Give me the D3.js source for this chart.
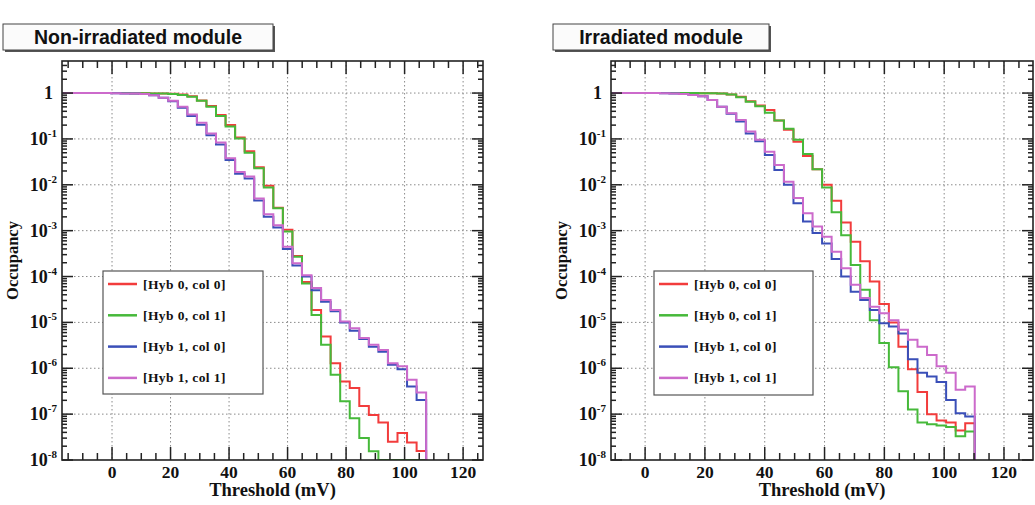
<!DOCTYPE html>
<html lang="en">
<head>
<meta charset="UTF-8">
<title>Occupancy vs threshold</title>
<script src="https://d3js.org/d3.v7.min.js"></script>
<style>
  body { margin: 0; background: #fff; }
  svg { display: block; }
  .serif { font-family: "Liberation Serif", "Times New Roman", serif; font-weight: bold; fill: #111; }
  .sans { font-family: "Liberation Sans", Arial, sans-serif; font-weight: bold; fill: #111; }
</style>
</head>
<body>
<svg id="chart" width="1035" height="505"></svg>
<script>
// ---- data ----
const xTicks = [0, 20, 40, 60, 80, 100, 120];
const yTicks = [1, 1e-1, 1e-2, 1e-3, 1e-4, 1e-5, 1e-6, 1e-7, 1e-8];
const yTickExp = ["", "-1", "-2", "-3", "-4", "-5", "-6", "-7", "-8"];
const seriesLabels = ["[Hyb 0, col 0]", "[Hyb 0, col 1]", "[Hyb 1, col 0]", "[Hyb 1, col 1]"];
const seriesColors = ["#f23c3c", "#46b93a", "#3a4fb8", "#cc6acb"];
const panelTitles = ["Non-irradiated module", "Irradiated module"];

// histogram binning (threshold, mV): first lower edge and bin width
const leftBinning = [-16.7, 3.265];
const rightBinning = [-11.0, 3.19];

// occupancy per bin, non-irradiated module
const leftH0C0 = [1, 1, 1, 1, 1, 1, 1, 0.993, 0.989, 0.982, 0.977, 0.966, 0.933, 0.851, 0.692, 0.525, 0.331, 0.200,
  0.107, 0.0537, 0.0240, 9.55e-3, 3.16e-3, 1.05e-3, 2.82e-4, 7.59e-5, 1.86e-5, 4.90e-6, 1.29e-6, 5.13e-7,
  3.72e-7, 1.51e-7, 9.55e-8, 6.61e-8, 2.51e-8, 3.89e-8, 2.40e-8, 1.58e-8];
const leftH0C1 = [1, 1, 1, 1, 1, 1, 1, 0.993, 0.989, 0.982, 0.977, 0.955, 0.912, 0.832, 0.676, 0.501, 0.316, 0.186,
  0.102, 0.0501, 0.0229, 8.71e-3, 3.09e-3, 9.55e-4, 2.69e-4, 7.08e-5, 1.45e-5, 3.24e-6, 7.24e-7, 1.91e-7,
  8.13e-8, 3.02e-8, 1.55e-8, 0, 0, 0, 0, 0];
const leftH1C0 = [1, 1, 1, 1, 1, 0.993, 0.984, 0.973, 0.955, 0.891, 0.794, 0.661, 0.479, 0.316, 0.204, 0.120, 0.0759,
  0.0347, 0.0174, 0.0138, 4.57e-3, 2.00e-3, 1.17e-3, 3.98e-4, 1.74e-4, 1.00e-4, 5.01e-5, 2.82e-5, 1.74e-5,
  1.00e-5, 6.61e-6, 4.37e-6, 2.95e-6, 2.29e-6, 1.20e-6, 9.55e-7, 3.98e-7, 2.04e-7];
const leftH1C1 = [1, 1, 1, 1, 1, 0.993, 0.984, 0.973, 0.955, 0.891, 0.794, 0.676, 0.501, 0.339, 0.224, 0.132, 0.0832,
  0.0380, 0.0191, 0.0151, 5.01e-3, 2.29e-3, 1.32e-3, 4.47e-4, 1.95e-4, 1.07e-4, 5.62e-5, 3.09e-5, 1.86e-5,
  1.05e-5, 7.41e-6, 4.57e-6, 3.24e-6, 2.51e-6, 1.29e-6, 1.10e-6, 5.62e-7, 2.95e-7];

// occupancy per bin, irradiated module
const rightH0C0 = [1, 1, 1, 1, 1, 1, 1, 1, 1, 0.993, 0.989, 0.977, 0.933, 0.832, 0.661, 0.537, 0.427, 0.251, 0.158,
  0.0871, 0.0427, 0.0219, 0.0100, 4.47e-3, 1.51e-3, 5.75e-4, 2.14e-4, 7.76e-5, 2.51e-5, 1.00e-5, 2.95e-6,
  9.55e-7, 3.02e-7, 1.00e-7, 7.24e-8, 6.61e-8, 4.37e-8, 6.31e-8];
const rightH0C1 = [1, 1, 1, 1, 1, 1, 1, 1, 1, 0.993, 0.989, 0.977, 0.933, 0.813, 0.646, 0.513, 0.372, 0.251, 0.166,
  0.0955, 0.0468, 0.0219, 8.71e-3, 2.51e-3, 7.94e-4, 1.78e-4, 5.13e-5, 1.12e-5, 3.55e-6, 1.05e-6, 3.16e-7,
  1.26e-7, 6.61e-8, 6.03e-8, 5.62e-8, 5.25e-8, 3.31e-8, 4.17e-8];
const rightH1C0 = [1, 1, 1, 1, 1, 0.989, 0.977, 0.955, 0.912, 0.851, 0.708, 0.501, 0.355, 0.240, 0.132, 0.0891,
  0.0447, 0.0209, 0.0100, 3.98e-3, 1.58e-3, 8.91e-4, 5.25e-4, 2.40e-4, 1.00e-4, 4.68e-5, 3.09e-5, 1.86e-5,
  9.55e-6, 8.13e-6, 5.75e-6, 1.58e-6, 7.94e-7, 6.61e-7, 5.01e-7, 2.04e-7, 1.05e-7, 8.91e-8];
const rightH1C1 = [1, 1, 1, 1, 1, 0.989, 0.977, 0.955, 0.912, 0.851, 0.708, 0.501, 0.363, 0.257, 0.145, 0.0955,
  0.0525, 0.0269, 0.0117, 5.13e-3, 2.40e-3, 1.23e-3, 7.41e-4, 3.47e-4, 1.51e-4, 6.61e-5, 3.39e-5, 2.19e-5,
  1.58e-5, 1.12e-5, 6.92e-6, 4.17e-6, 2.95e-6, 1.95e-6, 1.10e-6, 7.94e-7, 3.39e-7, 3.98e-7];

// ---- layout ----
const plotTop = 61, plotBottom = 460;
const panels = [
  { title: panelTitles[0], left: 62, right: 483, xDomain: [-17.1, 126.8], bins: leftBinning,
    series: [leftH0C0, leftH0C1, leftH1C0, leftH1C1],
    titleBox: [3, 24, 270, 26], legend: [103, 271, 160, 123], yTitleX: 13 },
  { title: panelTitles[1], left: 611, right: 1033, xDomain: [-11.4, 129.7], bins: rightBinning,
    series: [rightH0C0, rightH0C1, rightH1C0, rightH1C1],
    titleBox: [553, 24, 216, 26], legend: [654, 271, 159, 124], yTitleX: 562 }
];

const svg = d3.select("#chart");
const y = d3.scaleLog().domain([1e-8, 5]).range([plotBottom, plotTop]);
const yMinor = [];
for (let e = -8; e <= 0; e++) for (let m = 2; m <= 9; m++) if (m * Math.pow(10, e) < 5) yMinor.push(m * Math.pow(10, e));

panels.forEach((p, pi) => {
  const x = d3.scaleLinear().domain(p.xDomain).range([p.left, p.right]);
  const g = svg.append("g");
  const clipId = "clip" + pi;
  svg.append("clipPath").attr("id", clipId).append("rect")
    .attr("x", p.left).attr("y", plotTop).attr("width", p.right - p.left).attr("height", plotBottom - plotTop);

  // grid
  const grid = g.append("g").attr("stroke", "#8a8a8a").attr("stroke-width", 1).attr("stroke-dasharray", "1.5,2.5");
  grid.selectAll(".gx").data(xTicks).join("line")
    .attr("x1", d => x(d)).attr("x2", d => x(d)).attr("y1", plotTop).attr("y2", plotBottom);
  grid.selectAll(".gy").data(yTicks.slice(0, 8)).join("line")
    .attr("x1", p.left).attr("x2", p.right).attr("y1", d => y(d)).attr("y2", d => y(d));

  // histograms
  const [start, width] = p.bins;
  const yy = v => v > 0 ? y(v) : plotBottom;
  const stepPath = vals => {
    let d = `M${x(start)},${yy(vals[0])}`;
    vals.forEach((v, i) => {
      if (i > 0) d += `V${yy(v)}`;
      d += `H${x(start + (i + 1) * width)}`;
    });
    return d + `V${plotBottom}`;
  };
  g.append("g").attr("clip-path", `url(#${clipId})`)
    .selectAll("path").data(p.series).join("path")
    .attr("d", stepPath)
    .attr("fill", "none")
    .attr("stroke", (d, i) => seriesColors[i])
    .attr("stroke-width", 2);

  // frame and ticks
  g.append("rect").attr("x", p.left).attr("y", plotTop).attr("width", p.right - p.left).attr("height", plotBottom - plotTop)
    .attr("fill", "none").attr("stroke", "#222").attr("stroke-width", 1.6);
  const ticks = g.append("g").attr("stroke", "#222").attr("stroke-width", 1.5);
  const xMinor = d3.range(-15, 130, 5).filter(v => v > p.xDomain[0] && v < p.xDomain[1] && v % 20 !== 0);
  [[xTicks, 13], [xMinor, 7]].forEach(([vals, len]) => {
    ticks.selectAll(null).data(vals).join("line")
      .attr("x1", d => x(d)).attr("x2", d => x(d)).attr("y1", plotBottom).attr("y2", plotBottom - len);
    ticks.selectAll(null).data(vals).join("line")
      .attr("x1", d => x(d)).attr("x2", d => x(d)).attr("y1", plotTop).attr("y2", plotTop + len);
  });
  [[yTicks, 11], [yMinor, 5]].forEach(([vals, len]) => {
    ticks.selectAll(null).data(vals).join("line")
      .attr("x1", p.left).attr("x2", p.left + len).attr("y1", d => y(d)).attr("y2", d => y(d));
    ticks.selectAll(null).data(vals).join("line")
      .attr("x1", p.right).attr("x2", p.right - len).attr("y1", d => y(d)).attr("y2", d => y(d));
  });

  // tick labels
  g.selectAll(".xl").data(xTicks).join("text").attr("class", "serif")
    .attr("x", d => x(d)).attr("y", plotBottom + 18).attr("text-anchor", "middle")
    .attr("font-size", 17.5).text(d => d);
  const yl = g.selectAll(".yl").data(yTicks).join("text").attr("class", "serif")
    .attr("x", p.left - 5).attr("y", d => y(d) + 6).attr("text-anchor", "end").attr("font-size", 18);
  yl.each(function (d, i) {
    const t = d3.select(this);
    if (i === 0) { t.attr("x", p.left - 9).text("1"); return; }
    t.append("tspan").text("10");
    t.append("tspan").attr("dy", -8).attr("font-size", 11).text(yTickExp[i]);
  });

  // axis titles
  g.append("text").attr("class", "serif").attr("x", (p.left + p.right) / 2).attr("y", 496)
    .attr("text-anchor", "middle").attr("font-size", 18.5).text("Threshold (mV)");
  g.append("text").attr("class", "serif")
    .attr("transform", `translate(${p.yTitleX + 5},${(plotTop + plotBottom) / 2}) rotate(-90)`)
    .attr("text-anchor", "middle").attr("font-size", 16.5).text("Occupancy");

  // title box
  const [bx, by, bw, bh] = p.titleBox;
  g.append("rect").attr("x", bx + 2).attr("y", by + 2).attr("width", bw).attr("height", bh).attr("fill", "#555");
  g.append("rect").attr("x", bx).attr("y", by).attr("width", bw).attr("height", bh)
    .attr("fill", "#fbfbfb").attr("stroke", "#444").attr("stroke-width", 1);
  g.append("text").attr("class", "sans").attr("x", bx + bw / 2).attr("y", by + 19.5)
    .attr("text-anchor", "middle").attr("font-size", 19.5).text(p.title);

  // legend
  const [lx, ly, lw, lh] = p.legend;
  const leg = g.append("g");
  leg.append("rect").attr("x", lx).attr("y", ly).attr("width", lw).attr("height", lh)
    .attr("fill", "#fff").attr("stroke", "#555").attr("stroke-width", 1.2);
  const rows = leg.selectAll(".row").data(seriesLabels).join("g")
    .attr("transform", (d, i) => `translate(${lx},${ly + 13 + i * 31.3})`);
  rows.append("line").attr("x1", 5).attr("x2", 34).attr("y1", 0).attr("y2", 0)
    .attr("stroke", (d, i) => seriesColors[i]).attr("stroke-width", 2.5);
  rows.append("text").attr("class", "serif").attr("x", 40).attr("y", 4.5)
    .attr("font-size", 13.5).attr("letter-spacing", 0.4).attr("fill", "#333").text(d => d);
});
</script>
</body>
</html>
